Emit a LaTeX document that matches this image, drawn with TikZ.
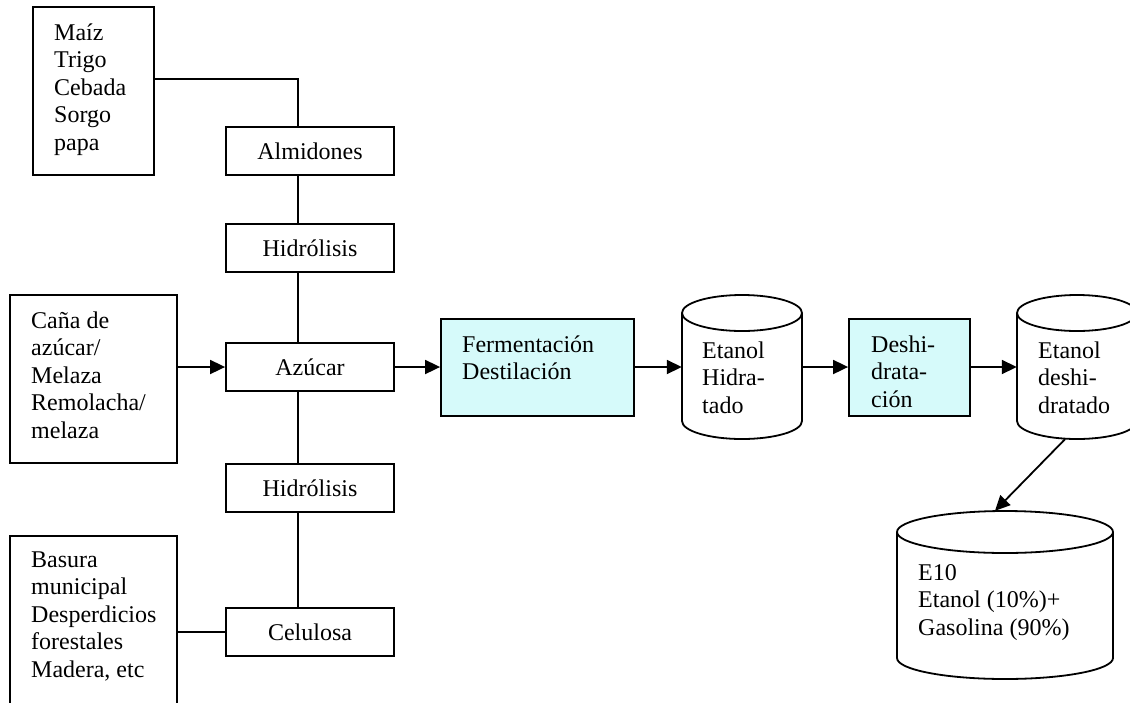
\documentclass[tikz,border=0pt]{standalone}
\usepackage{fontspec}
\setmainfont{Liberation Serif}
\usetikzlibrary{arrows.meta,calc}
\definecolor{cyanfill}{RGB}{214,250,250}
\tikzset{
  every picture/.style={x=1pt,y=-1pt},
  ln/.style={line width=1.8pt},
  arr/.style={ln,-{Triangle[length=15pt,width=14pt]}},
  box/.style={draw,ln,rectangle,inner sep=0pt,font=\fontsize{24}{27.5}\selectfont,text height=16pt,text depth=0pt},
  procbox/.style={draw,ln,rectangle,inner sep=0pt,fill=cyanfill},
  holder/.style={rectangle,inner sep=0pt},
  txt/.style={anchor=base west,inner sep=0pt,font=\fontsize{24}{27.5}\selectfont}
}
\newcommand{\lines}[1]{\parbox[t]{220pt}{\raggedright #1}}
\begin{document}
\begin{tikzpicture}
\useasboundingbox (0,0) rectangle (1130,702);
% left source boxes
\node[box,minimum width=121pt,minimum height=168pt] (b1) at (93.5,91) {};
\node[box,minimum width=167pt,minimum height=168pt] (cana) at (93.5,379) {};
\node[box,minimum width=167pt,minimum height=190pt] (bas) at (93.5,631) {};
\node[txt] (t1) at (54,40) {\lines{Maíz\\Trigo\\Cebada\\Sorgo\\papa}};
\node[txt] (t2) at (31,328) {\lines{Caña de\\azúcar/\\Melaza\\Remolacha/\\melaza}};
\node[txt] (t3) at (31,567) {\lines{Basura\\municipal\\Desperdicios\\forestales\\Madera, etc}};
% middle column
\node[box,minimum width=168pt,minimum height=48pt] (alm) at (310,151) {Almidones};
\node[box,minimum width=168pt,minimum height=48pt] (hid1) at (310,248) {Hidrólisis};
\node[box,minimum width=168pt,minimum height=48pt] (azu) at (310,367) {Azúcar};
\node[box,minimum width=168pt,minimum height=48pt] (hid2) at (310,488) {Hidrólisis};
\node[box,minimum width=168pt,minimum height=48pt] (cel) at (310,632) {Celulosa};
% process boxes
\node[procbox,minimum width=193pt,minimum height=97pt] (ferm) at (537.5,367.5) {};
\node[txt] (t4) at (462,352) {\lines{Fermentación\\Destilación}};
\node[procbox,minimum width=121pt,minimum height=97pt] (des) at (909.5,367.5) {};
\node[txt] (t5) at (871,352) {\lines{Deshi-\\drata-\\ción}};
% cylinders
\node[holder,minimum width=120pt,minimum height=144pt] (eh) at (742,367) {};
\draw[ln,fill=white] (682,313) -- (682,421) arc[start angle=180,end angle=0,x radius=60,y radius=18] -- (802,313);
\draw[ln,fill=white] (742,313) ellipse[x radius=60,y radius=18];
\node[txt] (t6) at (702,358) {\lines{Etanol\\Hidra-\\tado}};
\node[holder,minimum width=120pt,minimum height=144pt] (ed) at (1077,367) {};
\draw[ln,fill=white] (1017,313) -- (1017,421) arc[start angle=180,end angle=0,x radius=60,y radius=18] -- (1137,313);
\draw[ln,fill=white] (1077,313) ellipse[x radius=60,y radius=18];
\node[txt] (t7) at (1038,358) {\lines{Etanol\\deshi-\\dratado}};
\node[holder,minimum width=216pt,minimum height=168pt] (e10) at (1005,595) {};
\draw[ln,fill=white] (897,532) -- (897,658) arc[start angle=180,end angle=0,x radius=108,y radius=21] -- (1113,532);
\draw[ln,fill=white] (1005,532) ellipse[x radius=108,y radius=21];
\node[txt] (t8) at (918,580) {\lines{E10\\Etanol (10\%)+\\Gasolina (90\%)}};
% connectors
\coordinate (vx) at (298,0);
\coordinate (yA) at (0,79);
\draw[ln] (b1.east |- yA) -| (vx |- alm.north);
\draw[ln] (vx |- alm.south) -- (vx |- hid1.north);
\draw[ln] (vx |- hid1.south) -- (vx |- azu.north);
\draw[ln] (vx |- azu.south) -- (vx |- hid2.north);
\draw[ln] (vx |- hid2.south) -- (vx |- cel.north);
\draw[ln] (bas.east |- cel.west) -- (cel.west);
\draw[arr] (cana.east |- azu.west) -- (azu.west);
\draw[arr] (azu.east) -- (ferm.west |- azu.east);
\draw[arr] (ferm.east |- eh.west) -- (eh.west);
\draw[arr] (eh.east) -- (des.west |- eh.east);
\draw[arr] (des.east |- ed.west) -- (ed.west);
\draw[arr] ($(ed.south)+(-12,0)$) -- ($(e10.north)+(-10,0)$);
\end{tikzpicture}
\end{document}
